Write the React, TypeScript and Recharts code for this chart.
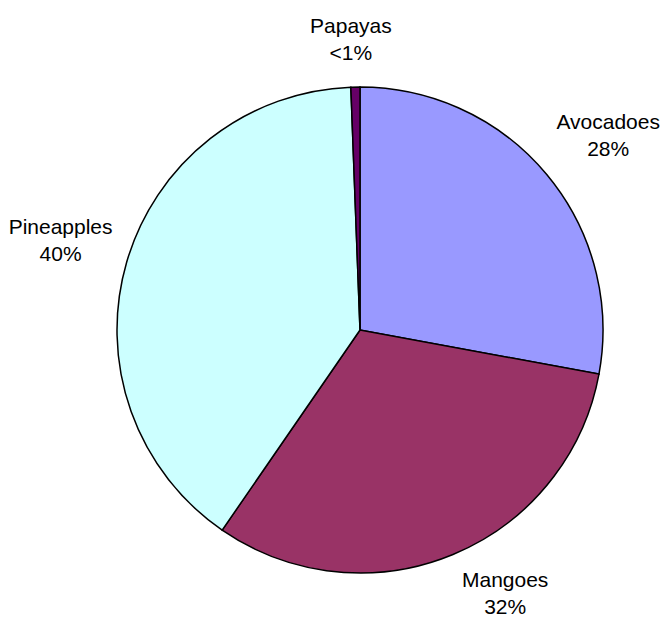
import { PieChart, Pie, Cell } from 'recharts';

const fruits = ['Avocadoes', 'Mangoes', 'Pineapples', 'Papayas'];
const shares = [27.9, 31.7, 39.8, 0.6];
const shareLabels = ['28%', '32%', '40%', '<1%'];
const colors = ['#9999FF', '#993366', '#CCFFFF', '#660066'];

const data = fruits.map((name, i) => ({ name, value: shares[i] }));

const RADIAN = Math.PI / 180;
const FONT = 21;

// place the two-line label box just outside the rim, pushed out along its mid angle
const renderLabel = (props: any) => {
    const { cx, cy, midAngle, outerRadius, index } = props;
    const dx = Math.cos(-midAngle * RADIAN);
    const dy = Math.sin(-midAngle * RADIAN);
    const halfW = 43;
    const halfH = 20;
    const r = outerRadius + 24;
    const clamp = (v: number) => Math.max(-1, Math.min(1, v));
    const x = cx + r * dx + clamp(dx * 5) * halfW;
    const y = cy + r * dy + clamp(dy * 2) * halfH - 4;
    return (
        <text
            x={x}
            y={y}
            textAnchor="middle"
            fill="#000"
            fontSize={FONT}
            fontFamily="'Liberation Sans', Arial, sans-serif"
        >
            <tspan x={x} dy={-6}>{fruits[index]}</tspan>
            <tspan x={x} dy={27}>{shareLabels[index]}</tspan>
        </text>
    );
};

export default function App() {
    return (
        <div style={{ position: 'absolute', left: 0, top: 0, background: '#fff' }}>
            <PieChart width={666} height={617} margin={{ top: 0, right: 0, bottom: 0, left: 0 }}>
                <Pie
                    data={data}
                    dataKey="value"
                    cx={360}
                    cy={330}
                    outerRadius={243}
                    startAngle={90}
                    endAngle={-270}
                    stroke="#000"
                    strokeWidth={1.5}
                    label={renderLabel}
                    labelLine={false}
                    isAnimationActive={false}
                >
                    {data.map((d, i) => (
                        <Cell key={d.name} fill={colors[i]} />
                    ))}
                </Pie>
            </PieChart>
        </div>
    );
}
